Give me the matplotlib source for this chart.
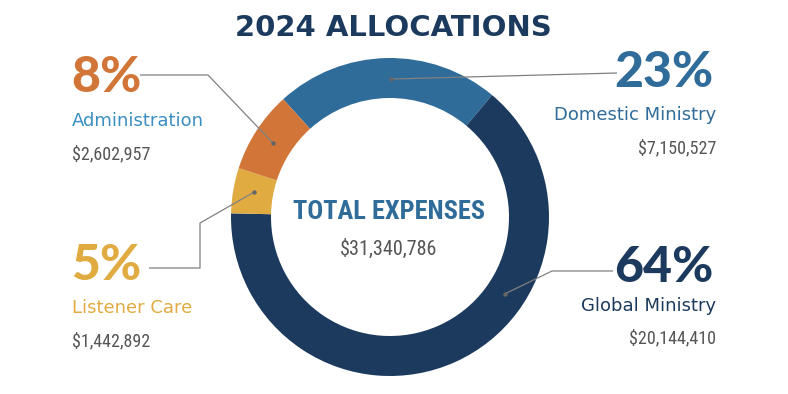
import matplotlib
matplotlib.use("Agg")
import matplotlib.pyplot as plt
from matplotlib import font_manager as fm
import numpy as np
import os

# ---- data ----
categories = ["Domestic Ministry", "Global Ministry", "Listener Care", "Administration"]
amounts = [7150527, 20144410, 1442892, 2602957]
pct_labels = ["23%", "64%", "5%", "8%"]
amount_labels = ["$7,150,527", "$20,144,410", "$1,442,892", "$2,602,957"]
total_label = "$31,340,786"
title = "2024 ALLOCATIONS"
center_title = "TOTAL EXPENSES"

colors = ["#2f6c99", "#1c3a5e", "#e0ac42", "#d17638"]
name_colors = ["#2f6c99", "#1c3a5e", "#e0ac42", "#3a8fc0"]
gray = "#555555"
line_gray = "#808080"

_files = {os.path.basename(e.fname): e.fname for e in fm.fontManager.ttflist}

def by_file(candidates, fallback):
    for c in candidates:
        if c in _files:
            return fm.FontProperties(fname=_files[c]), True
    return fallback, False

pct_prop, _ = by_file(["Lato-Heavy.ttf", "Lato-Bold.ttf"],
                      fm.FontProperties(family="DejaVu Sans", weight="bold"))
cond_reg, NARROW = by_file(["RobotoCondensed-Regular.ttf", "DejaVuSansCondensed.ttf"],
                           fm.FontProperties(family="DejaVu Sans"))
cond_bold, _ = by_file(["RobotoCondensed-ExtraBold.ttf", "RobotoCondensed-Bold.ttf",
                        "DejaVuSansCondensed-Bold.ttf"],
                       fm.FontProperties(family="DejaVu Sans", weight="bold"))
name_prop = fm.FontProperties(family="DejaVu Sans")
title_prop = fm.FontProperties(family="DejaVu Sans", weight="bold")

W, H = 788, 394
fig = plt.figure(figsize=(W / 100, H / 100), dpi=100)
ax = fig.add_axes([0, 0, 1, 1])

def Y(y):
    return H - y

cx, cy, R, ring = 390, Y(217), 159, 40
wedges, _ = ax.pie(amounts, colors=colors, startangle=132.2, counterclock=False,
                   center=(cx, cy), radius=R, frame=True,
                   wedgeprops=dict(width=ring, linewidth=0))
ax.set_xlim(0, W)
ax.set_ylim(0, H)
ax.set_aspect("equal")
ax.axis("off")

anchor_frac = [0.52, 0.363, 0.55, 0.48]
rmid = R - ring / 2 - 1
anchors = []
for w, f in zip(wedges, anchor_frac):
    ang = np.deg2rad(w.theta2 - f * (w.theta2 - w.theta1))
    anchors.append((cx + rmid * np.cos(ang), cy + rmid * np.sin(ang)))

paths = [
    [(617, Y(73))],
    [(552, Y(271)), (613, Y(271))],
    [(200, Y(223)), (200, Y(268)), (149, Y(268))],
    [(208, Y(75)), (140, Y(75))],
]
for (ax0, ay0), p in zip(anchors, paths):
    xs = [ax0] + [q[0] for q in p]
    ys = [ay0] + [q[1] for q in p]
    ax.plot(xs, ys, color=line_gray, lw=0.9, solid_capstyle="butt", zorder=3)
    ax.plot([ax0], [ay0], "o", color="#666666", ms=3.2, mec="none", zorder=4)

def txt(x, y, s, prop, size, **kw):
    p = prop.copy()
    p.set_size(size)
    ax.text(x, y, s, fontproperties=p, va="baseline", **kw)

amt_size = 13 if NARROW else 12

right_pos = [(714, 87, 120, 153), (714, 282, 311, 343)]
for i, (x, yp, yn, ya) in zip([0, 1], right_pos):
    txt(x, Y(yp), pct_labels[i], pct_prop, 36, color=colors[i], ha="right")
    txt(x + 2, Y(yn), categories[i], name_prop, 13, color=name_colors[i], ha="right")
    txt(x + 2, Y(ya), amount_labels[i], cond_reg, amt_size, color=gray, ha="right")

left_pos = {3: (71, 92, 126, 159), 2: (71, 280, 313, 346)}
for i, (x, yp, yn, ya) in left_pos.items():
    txt(x, Y(yp), pct_labels[i], pct_prop, 36, color=colors[i], ha="left")
    txt(x + 1, Y(yn), categories[i], name_prop, 13, color=name_colors[i], ha="left")
    txt(x + 1, Y(ya), amount_labels[i], cond_reg, amt_size, color=gray, ha="left")

txt(393, Y(36), title, title_prop, 21, color="#1c3a5e", ha="center")
txt(389, Y(219), center_title, cond_bold, 19 if NARROW else 17, color="#2f6c99", ha="center")
txt(389, Y(255), total_label, cond_reg, 14.5 if NARROW else 13.5, color=gray, ha="center")

fig.savefig("out.png", dpi=100, facecolor="white")
